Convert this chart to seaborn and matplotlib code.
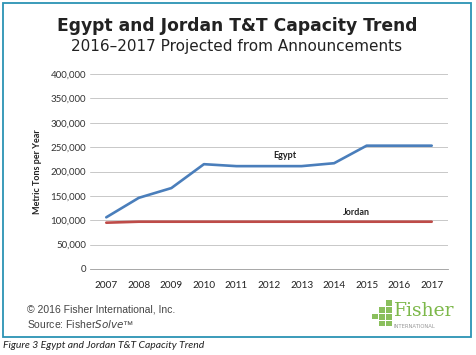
import pandas as pd
import seaborn as sns
import matplotlib.pyplot as plt
from matplotlib.patches import Rectangle

years = [2007, 2008, 2009, 2010, 2011, 2012, 2013, 2014, 2015, 2016, 2017]
egypt = [106000, 146000, 166000, 215000, 211000, 211000, 211000, 217000, 253000, 253000, 253000]
jordan = [95000, 97000, 97000, 97000, 97000, 97000, 97000, 97000, 97000, 97000, 97000]
y_ticks = [0, 50000, 100000, 150000, 200000, 250000, 300000, 350000, 400000]

df = pd.DataFrame({"pos": list(range(len(years))) * 2,
                   "value": egypt + jordan,
                   "country": ["Egypt"] * len(years) + ["Jordan"] * len(years)})

sns.set_style("white")
plt.rcParams['font.family'] = ['DejaVu Sans']

fig = plt.figure(figsize=(4.76, 3.55), dpi=100)
W, H = 476, 355

# outer frame
fig.patches.append(Rectangle((3 / W, 1 - 337 / H), 468 / W, 334 / H, transform=fig.transFigure,
                             fill=False, edgecolor='#2b93b4', linewidth=1.3))

ax = fig.add_axes([90 / W, 1 - 269 / H, 358 / W, 195 / H])
sns.lineplot(data=df, x="pos", y="value", hue="country", palette={"Egypt": "#4a7ebb", "Jordan": "#be4b48"},
             linewidth=1.9, legend=False, ax=ax)

ax.set_xlim(-0.5, len(years) - 0.5)
ax.set_ylim(0, 400000)
ax.set_yticks(y_ticks)
ax.set_yticklabels([f"{v:,}" for v in y_ticks], fontsize=7, color='#333333', family='Lato')
ax.set_xticks(range(len(years)))
ax.set_xticklabels([str(y) for y in years], fontsize=7.2, color='#222222', family='Lato')
ax.set_xticks([i - 0.5 for i in range(len(years) + 1)], minor=True)
ax.tick_params(axis='x', which='major', length=0, pad=9)
ax.tick_params(axis='x', which='minor', length=3, color='#999999', width=0.6)
ax.tick_params(axis='y', length=0, pad=3)
ax.grid(axis='y', color='#c8c8c8', linewidth=0.7)
for s in ['top', 'right', 'left']:
    ax.spines[s].set_visible(False)
ax.spines['bottom'].set_color('#999999')
ax.spines['bottom'].set_linewidth(0.6)
ax.set_xlabel("")
ax.set_ylabel("Metric Tons per Year", fontsize=6.5, fontweight='bold', color='#222222', family='Lato', labelpad=6)

ax.text(5.5, 232000, "Egypt", fontsize=6.5, fontweight='bold', color='#222222', ha='center', va='center', family='Lato')
ax.text(7.7, 116000, "Jordan", fontsize=6.5, fontweight='bold', color='#222222', ha='center', va='center', family='Lato')

fig.text(237 / W, 1 - 26 / H, "Egypt and Jordan T&T Capacity Trend", fontsize=12.3, fontweight='bold',
         color='#222222', ha='center', va='center')
fig.text(237 / W, 1 - 47 / H, "2016\u20132017 Projected from Announcements", fontsize=11,
         color='#222222', ha='center', va='center')

fig.text(27 / W, 1 - 310 / H, "\u00a9 2016 Fisher International, Inc.", fontsize=7.5, color='#444444',
         family='Liberation Sans', va='center')
fig.text(27 / W, 1 - 324 / H, "Source: Fisher$\\it{Solve}$\u2122", fontsize=7.5, color='#444444',
         family='Liberation Sans', va='center')

# logo
green = '#7db84a'
for (x, y, w, h) in [(386, 300, 6, 6), (386, 307, 6, 6), (379, 307, 6, 6), (386, 314, 6, 6),
                     (379, 314, 6, 6), (372, 314, 6, 5), (386, 321, 6, 5), (379, 321, 6, 5)]:
    fig.patches.append(Rectangle((x / W, 1 - (y + h) / H), w / W, h / H, transform=fig.transFigure,
                                 facecolor=green, edgecolor='none', alpha=0.9))
fig.text(394 / W, 1 - 311 / H, "Fisher", fontsize=13.5, color=green, family='DejaVu Serif', va='center')
fig.text(394 / W, 1 - 326 / H, "INTERNATIONAL", fontsize=3.8, color='#999999', va='center')

fig.text(3 / W, 1 - 346 / H, "Figure 3 Egypt and Jordan T&T Capacity Trend", fontsize=7.5, style='italic',
         color='#222222', family='Lato', va='center')

fig.savefig("out.png", dpi=100)
